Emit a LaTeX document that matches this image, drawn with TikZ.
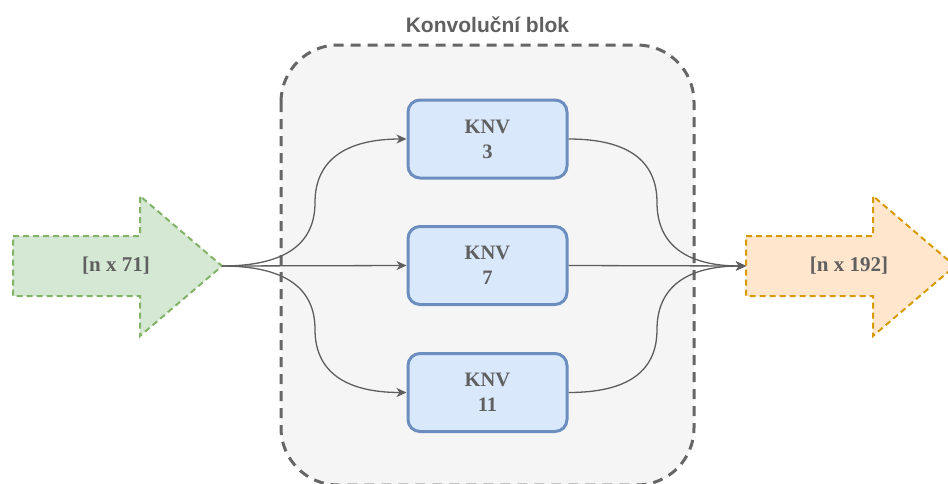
\documentclass[tikz,border=0pt]{standalone}
\usepackage{fontspec}
\setmainfont{Liberation Serif}
\newfontfamily\titlefont{Liberation Sans}
\usetikzlibrary{arrows.meta}

\definecolor{blokfill}{HTML}{F5F5F5}
\definecolor{blokline}{HTML}{666666}
\definecolor{knvfill}{HTML}{DAE8FC}
\definecolor{knvline}{HTML}{6C8EBF}
\definecolor{infill}{HTML}{D5E8D4}
\definecolor{inline}{HTML}{82B366}
\definecolor{outfill}{HTML}{FFE6CC}
\definecolor{outline}{HTML}{D79B00}
\definecolor{txt}{HTML}{606060}
\definecolor{edgecol}{HTML}{5E5E5E}

\tikzset{
  blok/.style={draw=blokline, fill=blokfill, line width=3pt,
    dash pattern=on 10pt off 7pt, rounded corners=57pt},
  knv/.style={draw=knvline, fill=knvfill, line width=3pt, rounded corners=12pt,
    minimum width=159pt, minimum height=78pt, inner sep=0pt, align=center,
    text=txt, font=\bfseries\fontsize{20.5}{25}\selectfont},
  bigarrow/.style={line width=2pt, dash pattern=on 6pt off 4pt, line join=miter},
  arrowlabel/.style={text=txt, font=\bfseries\fontsize{21}{25}\selectfont},
  edge/.style={draw=edgecol, line width=1.3pt,
    -{Stealth[length=10pt, width=9pt, inset=3pt]}},
}

\begin{document}
\begin{tikzpicture}[x=1pt, y=-1pt]
  \clip (0,0) rectangle (948,483);

  % convolution block container
  \draw[blok] (281,45) rectangle (694,485);
  \node[anchor=base, text=txt, font=\titlefont\bfseries\fontsize{21}{25}\selectfont]
    (title) at (487.5,32) {Konvoluční blok};

  % input arrow
  \draw[bigarrow, draw=inline, fill=infill]
    (13,236) -- (140,236) -- (140,196) -- (222,266) -- (140,336) -- (140,296) -- (13,296) -- cycle;
  \coordinate (intip) at (222,266);
  \node[arrowlabel] (inlabel) at (116,266) {[n x 71]};

  % output arrow
  \draw[bigarrow, draw=outline, fill=outfill]
    (746,236) -- (873,236) -- (873,196) -- (955,266) -- (873,336) -- (873,296) -- (746,296) -- cycle;
  \coordinate (outtail) at (746,266);
  \node[arrowlabel] (outlabel) at (849,266) {[n x 192]};

  % convolution branches
  \node[knv] (k3)  at (487.5,139)   {KNV\\3};
  \node[knv] (k7)  at (487.5,265.5) {KNV\\7};
  \node[knv] (k11) at (487.5,392.5) {KNV\\11};

  % fan-out from the input
  \draw[edge] (intip) .. controls (284,266) and (315,244.8) .. (315,202.5)
                      .. controls (315,160.2) and (345.7,139) .. (k3.west);
  \draw[edge] (intip) -- (k7.west);
  \draw[edge] (intip) .. controls (284,266) and (315,287.2) .. (315,329.5)
                      .. controls (315,371.8) and (345.7,392.5) .. (k11.west);

  % fan-in to the output
  \draw[edge] (k3.east) .. controls (627.3,139) and (657,160.2) .. (657,202.5)
                        .. controls (657,244.8) and (686.7,266) .. (outtail);
  \draw[edge] (k7.east) -- (outtail);
  \draw[edge] (k11.east) .. controls (627.3,392.5) and (657,371.8) .. (657,329.5)
                         .. controls (657,287.2) and (686.7,266) .. (outtail);
\end{tikzpicture}
\end{document}
